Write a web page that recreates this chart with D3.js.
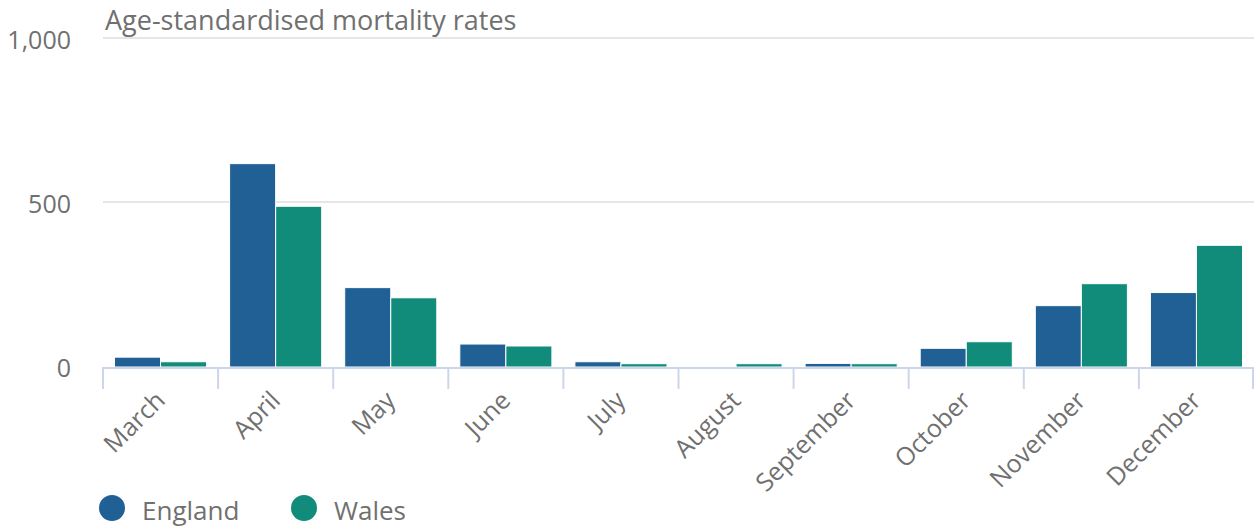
<!DOCTYPE html>
<html>
<head>
<meta charset="utf-8">
<script src="https://cdn.jsdelivr.net/npm/d3@7"></script>
<style>
  body { margin: 0; background: #fff; }
  text { font-family: "Open Sans", sans-serif; fill: #707070; }
</style>
</head>
<body>
<div id="chart"></div>
<script>
// Data
const months = ['March', 'April', 'May', 'June', 'July', 'August', 'September', 'October', 'November', 'December'];
const england = [30, 620, 242, 70, 16, 0, 11, 57, 187, 227];
const wales = [16, 490, 211, 64, 10, 10, 10, 77, 254, 371];
const yTicks = [0, 500, 1000];
const seriesNames = ['England', 'Wales'];
const colors = ['#206095', '#118c7b'];

const W = 1254, H = 526;
const margin = { top: 39, right: 0, bottom: 159, left: 103 };
const width = W - margin.left - margin.right;
const height = 367 - margin.top;

const svg = d3.select("#chart")
    .append("svg")
    .attr("width", W)
    .attr("height", H);

const g = svg.append("g")
    .attr("transform", `translate(${margin.left},${margin.top})`);

const x = d3.scaleBand()
    .domain(months)
    .range([0, width])
    .paddingInner(0)
    .paddingOuter(0);

const x1 = d3.scaleBand()
    .domain(seriesNames)
    .range([x.bandwidth() * 0.1, x.bandwidth() * 0.9]);

const y = d3.scaleLinear()
    .domain([0, 1000])
    .range([height, 0]);

// gridlines
g.selectAll(".grid")
    .data(yTicks.filter(d => d > 0))
    .enter()
    .append("line")
    .attr("x1", 0)
    .attr("x2", width)
    .attr("y1", d => y(d) - 1)
    .attr("y2", d => y(d) - 1)
    .attr("stroke", "#e6e6e6")
    .attr("stroke-width", 2);

// y labels
g.selectAll(".ylab")
    .data(yTicks)
    .enter()
    .append("text")
    .attr("x", -32)
    .attr("y", d => y(d) + 10)
    .attr("text-anchor", "end")
    .style("font-size", "25px")
    .text(d => d3.format(",")(d));

// title
g.append("text")
    .attr("x", 2)
    .attr("y", -9)
    .style("font-size", "27px")
    .text("Age-standardised mortality rates");

// bars
const rows = months.map((m, i) => ({ month: m, vals: [england[i], wales[i]] }));
const groups = g.selectAll(".grp")
    .data(rows)
    .enter()
    .append("g")
    .attr("transform", d => `translate(${x(d.month)},0)`);

groups.selectAll("rect")
    .data(d => d.vals.map((v, j) => ({ name: seriesNames[j], v, j })))
    .enter()
    .append("rect")
    .filter(d => d.v > 0)
    .attr("x", d => x1(d.name))
    .attr("y", d => y(d.v))
    .attr("width", x1.bandwidth())
    .attr("height", d => height - y(d.v))
    .attr("fill", d => colors[d.j])
    .attr("stroke", "#fff")
    .attr("stroke-width", 1);

// x axis line and ticks
g.append("line")
    .attr("x1", 0).attr("x2", width)
    .attr("y1", height + 1).attr("y2", height + 1)
    .attr("stroke", "#ccd6eb")
    .attr("stroke-width", 2);

const edges = months.map(m => x(m)).concat([width]);
g.selectAll(".tick")
    .data(edges)
    .enter()
    .append("line")
    .attr("x1", d => Math.min(d, width - 1))
    .attr("x2", d => Math.min(d, width - 1))
    .attr("y1", height)
    .attr("y2", height + 22)
    .attr("stroke", "#ccd6eb")
    .attr("stroke-width", 2);

// x labels
g.selectAll(".xlab")
    .data(months)
    .enter()
    .append("text")
    .attr("text-anchor", "end")
    .attr("transform", d => `translate(${x(d) + x.bandwidth() / 2 + 6},${height + 35}) rotate(-45)`)
    .style("font-size", "25px")
    .text(d => d);

// legend
const legend = svg.append("g")
    .attr("transform", `translate(112, 508)`);

const items = legend.selectAll(".item")
    .data(seriesNames)
    .enter()
    .append("g")
    .attr("transform", (d, i) => `translate(${i * 192},0)`);

items.append("circle")
    .attr("r", 13)
    .attr("fill", (d, i) => colors[i]);

items.append("text")
    .attr("x", 30)
    .attr("y", 12)
    .style("font-size", "26px")
    .text(d => d);
</script>
</body>
</html>
